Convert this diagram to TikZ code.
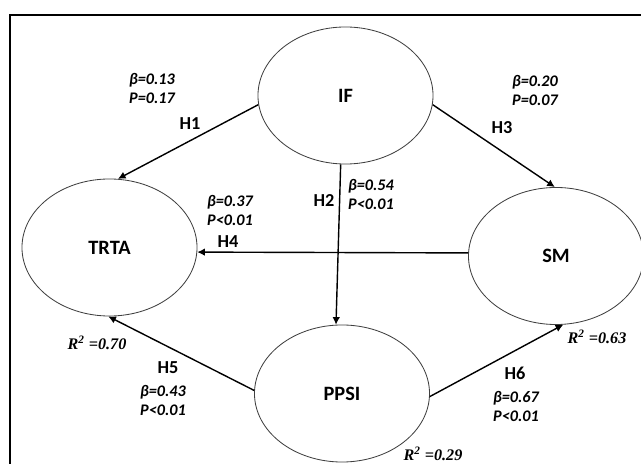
\documentclass[tikz,border=0pt]{standalone}
\usepackage{fontspec}
\setmainfont{Carlito}
\newfontfamily\rsqfont{Liberation Serif}
\usepackage{tikz}
\usetikzlibrary{arrows.meta,shapes.geometric}

\begin{document}
\begin{tikzpicture}[x=0.025cm,y=-0.025cm,
    every node/.style={font=\bfseries},
    construct/.style={ellipse,draw=black!75,line width=0.6pt,
                     minimum width=4.375cm,minimum height=3.425cm,
                     inner sep=0pt,font=\bfseries\fontsize{14.5}{16}\selectfont},
    hyp/.style      ={-{Latex[length=1.9mm,width=1.9mm]},line width=1pt},
    hlabel/.style   ={font=\bfseries\fontsize{13}{15}\selectfont},
    coef/.style     ={align=center,inner sep=1pt,
                     font=\bfseries\itshape\fontsize{11.5}{13.5}\selectfont},
    rsq/.style      ={inner sep=1pt,font=\rsqfont\bfseries\itshape\fontsize{11.5}{13}\selectfont},
  ]
  \useasboundingbox (0,0) rectangle (641,464);
  % frame (cut at right and bottom)
  \draw[line width=1.2pt] (641,15) -- (10,15) -- (10,464);

  % --- constructs ---
  \node[construct] (IF)   at (345.5, 95.5) {IF};
  \node[construct] (TRTA) at (109.5,247.5) {TRTA};
  \node[construct] (SM)   at (556.0,256.0) {SM};
  \node[construct] (PPSI) at (342.0,393.5) {PPSI};

  % --- hypotheses ---
  \draw[hyp] (IF.186)   -- (TRTA.83);
  \draw[hyp] (IF.266)   -- (PPSI.95);
  \draw[hyp] (IF.-6)    -- (SM.91);
  \draw[hyp] (SM.178)   -- (TRTA.-3.6);
  \draw[hyp] (PPSI.178) -- (TRTA.269);
  \draw[hyp] (PPSI.-2)  -- (SM.-84);

  % --- path labels ---
  \node[hlabel] (h1) at (190,124) {H1};
  \node[hlabel] (h2) at (324,201) {H2};
  \node[hlabel] (h3) at (502,128) {H3};
  \node[hlabel] (h4) at (228,242) {H4};
  \node[hlabel] (h5) at (168,368) {H5};
  \node[hlabel] (h6) at (515,373) {H6};

  \node[coef] (c1) at (152, 88.5) {β=0.13\\P=0.17};
  \node[coef] (c2) at (371,194.5) {β=0.54\\P<0.01};
  \node[coef] (c3) at (535, 90.0) {β=0.20\\P=0.07};
  \node[coef] (c4) at (230,210.0) {β=0.37\\P<0.01};
  \node[coef] (c5) at (163,400.0) {β=0.43\\P<0.01};
  \node[coef] (c6) at (516,406.5) {β=0.67\\P<0.01};

  % --- explained variance ---
  \node[rsq] (r1) at ( 97,343) {R\textsuperscript{2} =0.70};
  \node[rsq] (r2) at (597,337) {R\textsuperscript{2} =0.63};
  \node[rsq] (r3) at (433,454) {R\textsuperscript{2} =0.29};
\end{tikzpicture}
\end{document}
